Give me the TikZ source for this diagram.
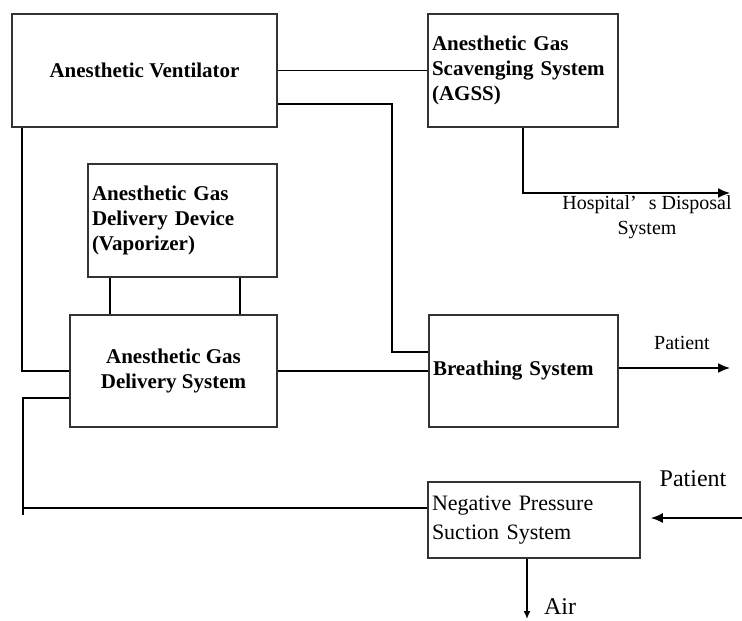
\documentclass[tikz,border=0pt]{standalone}
\usepackage{fontspec}
\setmainfont{Liberation Serif}
\usepackage{tikz}
\usetikzlibrary{arrows.meta}

\tikzset{
  box/.style={draw=black!80,line width=0.8pt,inner sep=2pt,
    font=\bfseries\fontsize{10.5}{12.3}\selectfont},
  lbox/.style={box,align=left},
  cbox/.style={box,align=center},
  lbl/.style={inner sep=0pt,font=\fontsize{10}{12.5}\selectfont,align=center},
  biglbl/.style={inner sep=0pt,font=\fontsize{12}{14}\selectfont}
}

\begin{document}
\begin{tikzpicture}[x=0.5pt,y=-0.5pt,line width=0.8pt,
    >={Latex[length=6pt,width=5pt]}]
			\useasboundingbox (0,0) rectangle (742,620);
			
			% boxes
			\node[cbox,minimum width=132.5pt,minimum height=56.5pt] (vent) at (144.5,70.5) {Anesthetic Ventilator};
			\node[lbox,text width=91pt,minimum height=56.5pt] (agss) at (523,70.5) {Anesthetic Gas\\Scavenging System\\(AGSS)};
			\node[lbox,text width=90.5pt,minimum height=56.5pt] (vap) at (182.5,220.5) {Anesthetic Gas\\Delivery Device\\(Vaporizer)};
			\node[cbox,minimum width=103.5pt,minimum height=56pt] (deliv) at (173.5,371) {Anesthetic Gas\\Delivery System};
			\node[lbox,text width=90.5pt,minimum height=56pt] (breath) at (523.5,371) {Breathing System};
			\node[lbox,text width=102pt,minimum height=38pt,
			  font=\fontsize{11}{14.5}\selectfont] (nps) at (534,520) {Negative Pressure\\Suction System};
			
			% free ends
			\coordinate (ventbend) at (392,104);
			\coordinate (suctend) at (23,515);
			\coordinate (suctjoin) at (23,508);
			\coordinate (dispose) at (730,193);
			\coordinate (patout) at (730,368);
			\coordinate (patin) at (742,518);
			\coordinate (airout) at (527,619);
			
			% connectors
			\draw (vent.east) -- (agss.west);
			\draw (vent.east |- ventbend) -- (ventbend) |- ([yshift=9.5pt]breath.west);
			\draw ([xshift=5.5pt]vent.south west) |- (deliv.west);
			\draw ([xshift=11.5pt]vap.south west) -- ([xshift=11.5pt]vap.south west |- deliv.north);
			\draw ([xshift=-19pt]vap.south east) -- ([xshift=-19pt]vap.south east |- deliv.north);
			\draw (deliv.east) -- (breath.west);
			\draw ([yshift=-13.5pt]deliv.west) -| (suctend);
			\draw (suctjoin) -- (suctjoin -| nps.west);
			
			\draw[->] (agss.south) |- (dispose);
			\draw[->] (breath.east |- patout) -- (patout);
			\draw[->] (patin) -- ([xshift=5pt]nps.east |- patin);
			\draw[->,>={Latex[length=4pt,width=3.5pt]}] (nps.south -| airout) -- (airout);
			
			% labels
			\node[lbl] (hosp) at (647,217) {Hospital’\hspace{0.6em}s Disposal\\System};
			\node[lbl] (patlbl) at (682,343) {Patient};
			\node[biglbl] (patinlbl) at (693,479) {Patient};
			\node[biglbl] (airlbl) at (560,607) {Air};
		\end{tikzpicture}
\end{document}
